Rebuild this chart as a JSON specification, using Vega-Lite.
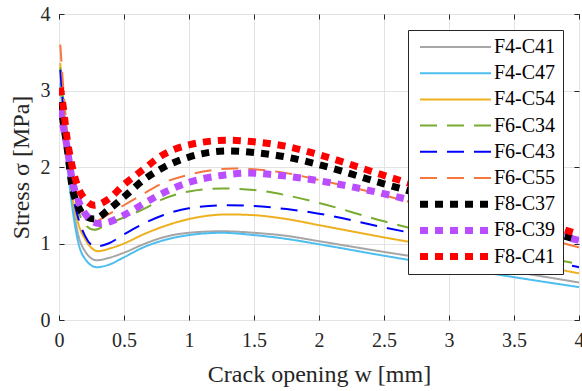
{
  "$schema": "https://vega.github.io/schema/vega-lite/v6.json",
  "width": 520,
  "height": 306,
  "autosize": {"type": "none"},
  "padding": {"left": 59, "top": 14, "right": 3, "bottom": 71},
  "background": "white",
  "config": {
    "font": "Liberation Serif",
    "view": {"stroke": "#262626", "strokeWidth": 1},
    "axis": {
      "labelFont": "Liberation Serif",
      "titleFont": "Liberation Serif",
      "labelFontSize": 20,
      "titleFontSize": 24,
      "titleFontWeight": "normal",
      "labelColor": "#262626",
      "titleColor": "#262626",
      "tickColor": "#262626",
      "domainColor": "#262626",
      "gridColor": "#e3e3e3",
      "gridWidth": 1,
      "tickSize": -5,
      "domain": false,
      "labelFlush": false,
      "labelOverlap": false,
      "format": "~g"
    }
  },
  "datasets": {
    "curves": [
      {"s":"F4-C41","w":0.01,"v":3.2},{"s":"F4-C41","w":0.03,"v":2.7},{"s":"F4-C41","w":0.06,"v":2.15},{"s":"F4-C41","w":0.1,"v":1.58},{"s":"F4-C41","w":0.15,"v":1.1},{"s":"F4-C41","w":0.2,"v":0.9},{"s":"F4-C41","w":0.29,"v":0.78},{"s":"F4-C41","w":0.38,"v":0.81},{"s":"F4-C41","w":0.5,"v":0.88},{"s":"F4-C41","w":0.65,"v":0.99},{"s":"F4-C41","w":0.8,"v":1.08},{"s":"F4-C41","w":1.0,"v":1.14},{"s":"F4-C41","w":1.25,"v":1.16},{"s":"F4-C41","w":1.5,"v":1.14},{"s":"F4-C41","w":1.75,"v":1.1},{"s":"F4-C41","w":2.0,"v":1.03},{"s":"F4-C41","w":2.5,"v":0.89},{"s":"F4-C41","w":3.0,"v":0.76},{"s":"F4-C41","w":3.5,"v":0.63},{"s":"F4-C41","w":4.0,"v":0.49},
      {"s":"F4-C47","w":0.01,"v":3.1},{"s":"F4-C47","w":0.03,"v":2.65},{"s":"F4-C47","w":0.06,"v":2.1},{"s":"F4-C47","w":0.1,"v":1.5},{"s":"F4-C47","w":0.15,"v":1.0},{"s":"F4-C47","w":0.2,"v":0.8},{"s":"F4-C47","w":0.29,"v":0.69},{"s":"F4-C47","w":0.38,"v":0.72},{"s":"F4-C47","w":0.5,"v":0.82},{"s":"F4-C47","w":0.65,"v":0.95},{"s":"F4-C47","w":0.8,"v":1.04},{"s":"F4-C47","w":1.0,"v":1.11},{"s":"F4-C47","w":1.25,"v":1.14},{"s":"F4-C47","w":1.5,"v":1.11},{"s":"F4-C47","w":1.75,"v":1.06},{"s":"F4-C47","w":2.0,"v":0.99},{"s":"F4-C47","w":2.5,"v":0.84},{"s":"F4-C47","w":3.0,"v":0.7},{"s":"F4-C47","w":3.5,"v":0.56},{"s":"F4-C47","w":4.0,"v":0.43},
      {"s":"F4-C54","w":0.01,"v":3.36},{"s":"F4-C54","w":0.03,"v":2.85},{"s":"F4-C54","w":0.06,"v":2.25},{"s":"F4-C54","w":0.1,"v":1.65},{"s":"F4-C54","w":0.15,"v":1.25},{"s":"F4-C54","w":0.2,"v":1.06},{"s":"F4-C54","w":0.3,"v":0.9},{"s":"F4-C54","w":0.4,"v":0.94},{"s":"F4-C54","w":0.5,"v":1.0},{"s":"F4-C54","w":0.65,"v":1.12},{"s":"F4-C54","w":0.8,"v":1.22},{"s":"F4-C54","w":1.0,"v":1.32},{"s":"F4-C54","w":1.3,"v":1.38},{"s":"F4-C54","w":1.5,"v":1.37},{"s":"F4-C54","w":1.75,"v":1.32},{"s":"F4-C54","w":2.0,"v":1.24},{"s":"F4-C54","w":2.5,"v":1.08},{"s":"F4-C54","w":3.0,"v":0.93},{"s":"F4-C54","w":3.5,"v":0.77},{"s":"F4-C54","w":4.0,"v":0.61},
      {"s":"F6-C34","w":0.01,"v":3.3},{"s":"F6-C34","w":0.03,"v":2.9},{"s":"F6-C34","w":0.06,"v":2.35},{"s":"F6-C34","w":0.1,"v":1.8},{"s":"F6-C34","w":0.15,"v":1.42},{"s":"F6-C34","w":0.2,"v":1.25},{"s":"F6-C34","w":0.27,"v":1.18},{"s":"F6-C34","w":0.38,"v":1.26},{"s":"F6-C34","w":0.5,"v":1.34},{"s":"F6-C34","w":0.65,"v":1.45},{"s":"F6-C34","w":0.8,"v":1.58},{"s":"F6-C34","w":1.0,"v":1.68},{"s":"F6-C34","w":1.25,"v":1.72},{"s":"F6-C34","w":1.5,"v":1.7},{"s":"F6-C34","w":1.75,"v":1.63},{"s":"F6-C34","w":2.0,"v":1.53},{"s":"F6-C34","w":2.5,"v":1.29},{"s":"F6-C34","w":3.0,"v":1.08},{"s":"F6-C34","w":3.5,"v":0.9},{"s":"F6-C34","w":4.0,"v":0.73},
      {"s":"F6-C43","w":0.01,"v":3.27},{"s":"F6-C43","w":0.03,"v":2.85},{"s":"F6-C43","w":0.06,"v":2.25},{"s":"F6-C43","w":0.1,"v":1.7},{"s":"F6-C43","w":0.15,"v":1.32},{"s":"F6-C43","w":0.2,"v":1.1},{"s":"F6-C43","w":0.28,"v":0.96},{"s":"F6-C43","w":0.38,"v":1.0},{"s":"F6-C43","w":0.5,"v":1.12},{"s":"F6-C43","w":0.65,"v":1.26},{"s":"F6-C43","w":0.8,"v":1.37},{"s":"F6-C43","w":1.0,"v":1.46},{"s":"F6-C43","w":1.3,"v":1.5},{"s":"F6-C43","w":1.5,"v":1.49},{"s":"F6-C43","w":1.75,"v":1.45},{"s":"F6-C43","w":2.0,"v":1.39},{"s":"F6-C43","w":2.5,"v":1.21},{"s":"F6-C43","w":3.0,"v":1.04},{"s":"F6-C43","w":3.5,"v":0.87},{"s":"F6-C43","w":4.0,"v":0.69},
      {"s":"F6-C55","w":0.01,"v":3.6},{"s":"F6-C55","w":0.03,"v":3.1},{"s":"F6-C55","w":0.06,"v":2.5},{"s":"F6-C55","w":0.1,"v":1.95},{"s":"F6-C55","w":0.15,"v":1.55},{"s":"F6-C55","w":0.2,"v":1.37},{"s":"F6-C55","w":0.27,"v":1.29},{"s":"F6-C55","w":0.38,"v":1.38},{"s":"F6-C55","w":0.5,"v":1.5},{"s":"F6-C55","w":0.65,"v":1.65},{"s":"F6-C55","w":0.8,"v":1.79},{"s":"F6-C55","w":1.0,"v":1.9},{"s":"F6-C55","w":1.35,"v":1.98},{"s":"F6-C55","w":1.5,"v":1.97},{"s":"F6-C55","w":1.75,"v":1.92},{"s":"F6-C55","w":2.0,"v":1.83},{"s":"F6-C55","w":2.5,"v":1.63},{"s":"F6-C55","w":3.0,"v":1.4},{"s":"F6-C55","w":3.5,"v":1.17},{"s":"F6-C55","w":4.0,"v":0.95},
      {"s":"F8-C37","w":0.01,"v":2.85},{"s":"F8-C37","w":0.03,"v":2.61},{"s":"F8-C37","w":0.06,"v":2.28},{"s":"F8-C37","w":0.1,"v":1.75},{"s":"F8-C37","w":0.15,"v":1.48},{"s":"F8-C37","w":0.2,"v":1.36},{"s":"F8-C37","w":0.27,"v":1.32},{"s":"F8-C37","w":0.38,"v":1.44},{"s":"F8-C37","w":0.5,"v":1.61},{"s":"F8-C37","w":0.65,"v":1.83},{"s":"F8-C37","w":0.8,"v":1.99},{"s":"F8-C37","w":1.0,"v":2.13},{"s":"F8-C37","w":1.3,"v":2.21},{"s":"F8-C37","w":1.5,"v":2.19},{"s":"F8-C37","w":1.75,"v":2.13},{"s":"F8-C37","w":2.0,"v":2.03},{"s":"F8-C37","w":2.5,"v":1.78},{"s":"F8-C37","w":3.0,"v":1.54},{"s":"F8-C37","w":3.5,"v":1.29},{"s":"F8-C37","w":4.0,"v":1.04},
      {"s":"F8-C39","w":0.01,"v":2.75},{"s":"F8-C39","w":0.03,"v":2.55},{"s":"F8-C39","w":0.06,"v":2.28},{"s":"F8-C39","w":0.1,"v":1.85},{"s":"F8-C39","w":0.15,"v":1.56},{"s":"F8-C39","w":0.2,"v":1.39},{"s":"F8-C39","w":0.31,"v":1.26},{"s":"F8-C39","w":0.4,"v":1.29},{"s":"F8-C39","w":0.5,"v":1.37},{"s":"F8-C39","w":0.65,"v":1.52},{"s":"F8-C39","w":0.8,"v":1.66},{"s":"F8-C39","w":1.0,"v":1.8},{"s":"F8-C39","w":1.25,"v":1.89},{"s":"F8-C39","w":1.45,"v":1.92},{"s":"F8-C39","w":1.75,"v":1.88},{"s":"F8-C39","w":2.0,"v":1.82},{"s":"F8-C39","w":2.5,"v":1.65},{"s":"F8-C39","w":3.0,"v":1.44},{"s":"F8-C39","w":3.5,"v":1.24},{"s":"F8-C39","w":4.0,"v":1.04},
      {"s":"F8-C41","w":0.01,"v":3.04},{"s":"F8-C41","w":0.03,"v":2.82},{"s":"F8-C41","w":0.06,"v":2.4},{"s":"F8-C41","w":0.1,"v":2.02},{"s":"F8-C41","w":0.15,"v":1.72},{"s":"F8-C41","w":0.2,"v":1.58},{"s":"F8-C41","w":0.27,"v":1.5},{"s":"F8-C41","w":0.38,"v":1.58},{"s":"F8-C41","w":0.5,"v":1.77},{"s":"F8-C41","w":0.65,"v":1.97},{"s":"F8-C41","w":0.8,"v":2.16},{"s":"F8-C41","w":1.0,"v":2.29},{"s":"F8-C41","w":1.3,"v":2.35},{"s":"F8-C41","w":1.5,"v":2.33},{"s":"F8-C41","w":1.75,"v":2.27},{"s":"F8-C41","w":2.0,"v":2.16},{"s":"F8-C41","w":2.5,"v":1.89},{"s":"F8-C41","w":3.0,"v":1.63},{"s":"F8-C41","w":3.5,"v":1.38},{"s":"F8-C41","w":4.0,"v":1.12}
    ]
  },
  "layer": [
    {
      "data": {"name": "curves"},
      "mark": {"type": "line", "interpolate": "monotone", "strokeCap": "butt", "clip": true},
      "encoding": {
        "x": {
          "field": "w", "type": "quantitative",
          "scale": {"domain": [0, 4], "nice": false, "zero": false},
          "axis": {
            "title": "Crack opening w [mm]",
            "values": [0, 0.5, 1, 1.5, 2, 2.5, 3, 3.5, 4],
            "labelPadding": 15,
            "titleY": 61, "titleBaseline": "alphabetic",
            "grid": true
          }
        },
        "y": {
          "field": "v", "type": "quantitative",
          "scale": {"domain": [0, 4], "nice": false, "zero": false},
          "axis": {
            "title": "Stress σ [MPa]",
            "values": [0, 1, 2, 3, 4],
            "labelPadding": 14,
            "titleX": -31, "titleY": 153, "titleBaseline": "alphabetic", "titleAngle": -90,
            "grid": true
          }
        },
        "color": {
          "field": "s", "type": "nominal",
          "scale": {
            "domain": ["F4-C41","F4-C47","F4-C54","F6-C34","F6-C43","F6-C55","F8-C37","F8-C39","F8-C41"],
            "range": ["#a6a6a6","#4dbeee","#edb120","#77ac30","#0000ff","#f5773e","#000000","#b94dff","#ff0000"]
          },
          "legend": {
            "title": null,
            "orient": "none",
            "legendX": 349,
            "legendY": 16,
            "symbolType": "M-1,0H13.2",
            "symbolSize": 100,
            "labelFontSize": 20,
            "labelFont": "Liberation Serif",
            "labelColor": "#000000",
            "labelOffset": 59,
            "rowPadding": 6.2,
            "padding": 7,
            "strokeColor": "#262626",
            "fillColor": "white",
            "labelLimit": 200,
            "encode": {"symbols": {"update": {"strokeJoin": {"value": "bevel"}, "strokeCap": {"value": "butt"}}}}
          }
        },
        "strokeDash": {
          "field": "s", "type": "nominal",
          "scale": {
            "domain": ["F4-C41","F4-C47","F4-C54","F6-C34","F6-C43","F6-C55","F8-C37","F8-C39","F8-C41"],
            "range": [[1,0],[1,0],[1,0],[17,10],[17,10],[17,10],[8,7],[8,7],[8,7]]
          },
          "legend": null
        },
        "strokeWidth": {
          "field": "s", "type": "nominal",
          "scale": {
            "type": "ordinal",
            "domain": ["F4-C41","F4-C47","F4-C54","F6-C34","F6-C43","F6-C55","F8-C37","F8-C39","F8-C41"],
            "range": [2,2,2,2,2,2,7,7,7]
          },
          "legend": null
        },
        "order": {"field": "w", "type": "quantitative"}
      }
    },
    {
      "data": {"values": [{"w": 0, "v": 0}, {"w": 4, "v": 4}]},
      "mark": {"type": "line", "strokeOpacity": 0},
      "encoding": {
        "x": {
          "field": "w", "type": "quantitative",
          "scale": {"domain": [0, 4], "nice": false, "zero": false},
          "axis": {"orient": "top", "labels": false, "title": null, "grid": false, "values": [0, 0.5, 1, 1.5, 2, 2.5, 3, 3.5, 4]}
        },
        "y": {
          "field": "v", "type": "quantitative",
          "scale": {"domain": [0, 4], "nice": false, "zero": false},
          "axis": {"orient": "right", "labels": false, "title": null, "grid": false, "values": [0, 1, 2, 3, 4]}
        }
      }
    }
  ],
  "resolve": {"axis": {"x": "independent", "y": "independent"}}
}
